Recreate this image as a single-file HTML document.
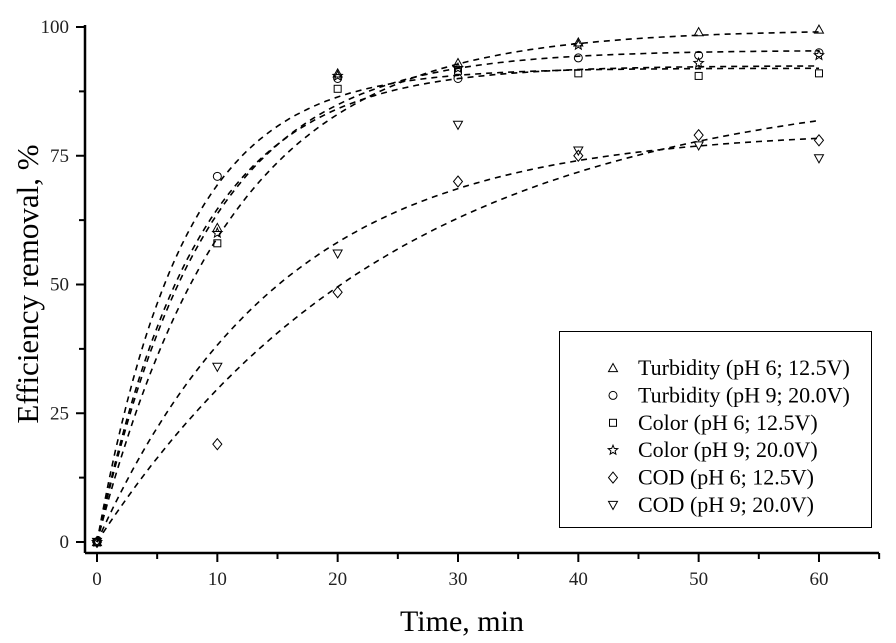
<!DOCTYPE html>
<html><head><meta charset="utf-8"><style>
html,body{margin:0;padding:0;background:#fff}
svg{display:block;font-family:"Liberation Serif",serif}
</style></head><body>
<svg id="s" width="896" height="643" viewBox="0 0 896 643" xmlns="http://www.w3.org/2000/svg">
<g stroke="#000" stroke-width="2.5" fill="none">
<line x1="85" y1="553" x2="879" y2="553"/>
<line x1="85" y1="25" x2="85" y2="553"/>
</g>
<g id="ticks" stroke="#000" stroke-width="2"></g>
<g id="lbl" font-size="19" fill="#222"></g>
<text x="462" y="631" font-size="30" text-anchor="middle">Time, min</text>
<text transform="translate(38,284) rotate(-90)" font-size="31" text-anchor="middle">Efficiency removal, %</text>
<g id="curves" stroke="#000" stroke-width="1.6" fill="none" stroke-dasharray="6,5"></g>
<g id="pts" stroke="#000" stroke-width="1" fill="none"></g>
<rect x="559.5" y="331.5" width="312" height="196" fill="#fff" stroke="#000" stroke-width="1"/>
<g id="leg" font-size="22" fill="#000"></g>
</svg>
<script>
const NS="http://www.w3.org/2000/svg";
const X=t=>97+t*12.033, Y=v=>542-v*5.15;
function el(p,tag,a,txt){const e=document.createElementNS(NS,tag);for(const k in a)e.setAttribute(k,a[k]);if(txt!==undefined)e.textContent=txt;document.getElementById(p).appendChild(e);return e;}
for(let t=0;t<=65;t+=5){const x=X(t);el('ticks','line',{x1:x,y1:553,x2:x,y2:t%10?559:562});if(t%10==0&&t<=60)el('lbl','text',{x:x,y:585,'text-anchor':'middle'},t);}
for(let v=0;v<=100;v+=12.5){const y=Y(v);el('ticks','line',{x1:85,y1:y,x2:v%25?79:76,y2:y});if(v%25==0)el('lbl','text',{x:69,y:y+6,'text-anchor':'end'},v);}
const fits=[[99.5,0.09],[92,0.14],[92.5,0.12],[95.5,0.11],[80,0.065],[90,0.04]];
fits.forEach(([A,k])=>{let d='';for(let t=0;t<=60.01;t+=0.5){d+=(t?'L':'M')+X(t).toFixed(1)+','+Y(A*(1-Math.exp(-k*t))).toFixed(1);}el('curves','path',{d});});
function mk(g,type,x,y){const r=4.5;
 if(type==0)el(g,'path',{d:`M${x},${y-r}L${x+r},${y+r*0.8}L${x-r},${y+r*0.8}Z`});
 if(type==1)el(g,'circle',{cx:x,cy:y,r:4});
 if(type==2)el(g,'rect',{x:x-3.5,y:y-3.5,width:7,height:7});
 if(type==3){let d='';for(let i=0;i<10;i++){const a=-Math.PI/2+i*Math.PI/5,rr=i%2?2.2:5;d+=(i?'L':'M')+(x+rr*Math.cos(a)).toFixed(1)+','+(y+rr*Math.sin(a)).toFixed(1);}el(g,'path',{d:d+'Z'});}
 if(type==4)el(g,'path',{d:`M${x},${y-r-1}L${x+r},${y}L${x},${y+r+1}L${x-r},${y}Z`});
 if(type==5)el(g,'path',{d:`M${x},${y+r}L${x+r},${y-r*0.8}L${x-r},${y-r*0.8}Z`});
}
const data=[[0,61,91,93,97,99,99.5],[0,71,90,90,94,94.5,95],[0,58,88,91.5,91,90.5,91],[0,60,90.5,92,96.5,93,94.5],[0,19,48.5,70,75,79,78],[0,34,56,81,76,77,74.5]];
data.forEach((s,i)=>s.forEach((v,j)=>mk('pts',i,X(j*10),Y(v))));
const names=["Turbidity (pH 6; 12.5V)","Turbidity (pH 9; 20.0V)","Color (pH 6; 12.5V)","Color (pH 9; 20.0V)","COD (pH 6; 12.5V)","COD (pH 9; 20.0V)"];
names.forEach((n,i)=>{const y=368+i*27.4;mk('leg',i,613,y);el('leg','text',{x:638,y:y+7},n);});
document.querySelectorAll('#leg path,#leg rect,#leg circle').forEach(e=>{e.setAttribute('fill','none');e.setAttribute('stroke','#000');});
</script>
</body></html>
